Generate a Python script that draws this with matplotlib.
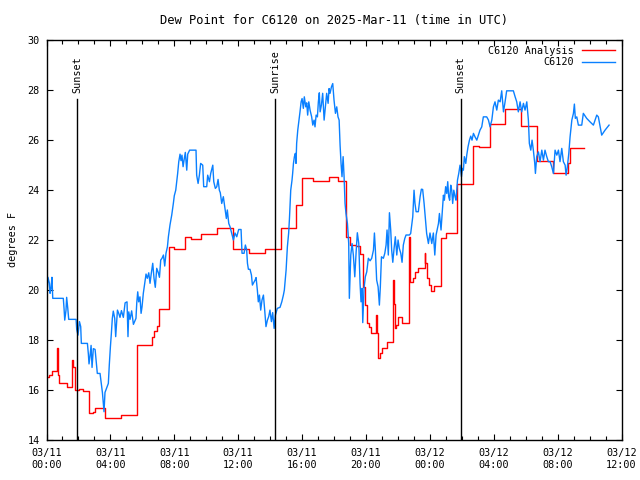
import matplotlib
matplotlib.use('Agg')
import matplotlib.pyplot as plt
from matplotlib.ticker import MultipleLocator

# hours since 2025-03-11 00:00 UTC
analysis_hours = [0.0, 0.16, 0.33, 0.64, 0.74, 0.80, 1.27, 1.30, 1.60, 1.68, 1.80, 2.05, 2.27,
                  2.68, 2.93, 3.04, 3.68, 4.67, 5.65, 5.69, 6.63, 6.73, 6.94, 7.05, 7.65, 7.69,
                  8.00, 8.65, 9.03, 9.69, 10.66, 11.68, 12.70, 13.70, 14.67, 15.62, 16.00, 16.71,
                  17.67, 18.27, 18.75, 19.00, 19.38, 19.63, 19.80, 19.96, 20.05, 20.19, 20.30,
                  20.63, 20.68, 20.78, 20.88, 21.03, 21.30, 21.72, 21.76, 21.80, 21.89, 22.01,
                  22.26, 22.68, 22.76, 22.97, 23.06, 23.26, 23.68, 23.72, 23.81, 23.97, 24.06,
                  24.26, 24.68, 25.00, 25.69, 26.69, 27.10, 27.77, 28.71, 29.73, 30.70, 31.74,
                  32.67, 32.78, 33.66]
analysis_dew = [16.52, 16.60, 16.76, 17.67, 16.60, 16.27, 16.20, 16.12, 17.20, 16.90, 16.00, 16.05,
                15.95, 15.09, 15.13, 15.27, 14.87, 14.99, 16.40, 17.79, 18.10, 18.36, 18.57, 19.23,
                20.48, 21.73, 21.64, 22.13, 22.04, 22.25, 22.47, 21.64, 21.47, 21.63, 22.47, 23.37,
                24.47, 24.33, 24.50, 24.36, 22.13, 21.80, 21.76, 21.44, 20.13, 19.39, 18.67, 18.50,
                18.27, 19.00, 18.27, 17.27, 17.47, 17.67, 17.92, 20.40, 19.44, 18.47, 18.60, 18.91,
                18.67, 22.13, 20.33, 20.47, 20.73, 20.89, 21.49, 21.09, 20.47, 20.20, 19.96, 20.16,
                22.07, 22.27, 24.23, 25.73, 25.70, 26.64, 27.23, 26.56, 25.16, 24.67, 25.07, 25.67,
                25.67]

obs_hours = [0.01, 0.09, 0.18, 0.22, 0.28, 0.34, 0.39, 1.05, 1.10, 1.14, 1.22, 1.26, 1.33, 1.39,
             1.85, 1.89, 1.97, 2.06, 2.14, 2.18, 2.56, 2.62, 2.66, 2.72, 2.79, 2.85, 2.93, 3.04,
             3.10, 3.18, 3.35, 3.43, 3.50, 3.60, 3.66, 3.87, 3.93, 4.00, 4.06, 4.12, 4.18, 4.27,
             4.33, 4.37, 4.44, 4.52, 4.60, 4.69, 4.81, 4.92, 5.04, 5.10, 5.15, 5.23, 5.33, 5.44,
             5.60, 5.65, 5.71, 5.77, 5.85, 5.92, 5.98, 6.06, 6.15, 6.23, 6.31, 6.40, 6.48, 6.56,
             6.65, 6.73, 6.81, 6.90, 7.00, 7.07, 7.15, 7.23, 7.32, 7.40, 7.48, 7.57, 7.63, 7.73,
             7.84, 7.94, 8.00, 8.09, 8.15, 8.21, 8.28, 8.36, 8.42, 8.48, 8.55, 8.61, 8.69, 8.78,
             8.84, 8.96, 9.36, 9.40, 9.49, 9.57, 9.65, 9.78, 9.84, 10.03, 10.09, 10.20, 10.28,
             10.41, 10.47, 10.57, 10.66, 10.74, 10.82, 10.88, 10.97, 11.07, 11.14, 11.20, 11.26,
             11.32, 11.41, 11.49, 11.57, 11.62, 11.70, 11.80, 11.91, 12.03, 12.18, 12.24, 12.37,
             12.45, 12.53, 12.58, 12.64, 12.74, 12.83, 12.89, 13.06, 13.12, 13.20, 13.26, 13.33,
             13.41, 13.49, 13.58, 13.66, 13.74, 13.83, 13.91, 13.99, 14.08, 14.16, 14.25, 14.33,
             14.45, 14.62, 14.73, 14.83, 14.89, 15.00, 15.08, 15.16, 15.21, 15.29, 15.37, 15.41,
             15.46, 15.52, 15.58, 15.62, 15.66, 15.73, 15.81, 15.87, 15.94, 16.00, 16.08, 16.14,
             16.23, 16.29, 16.35, 16.42, 16.50, 16.60, 16.67, 16.75, 16.81, 16.88, 16.96, 17.02,
             17.08, 17.13, 17.21, 17.29, 17.38, 17.46, 17.54, 17.63, 17.69, 17.75, 17.84, 17.92,
             18.00, 18.09, 18.17, 18.25, 18.32, 18.38, 18.44, 18.50, 18.57, 18.63, 18.69, 18.75,
             18.84, 18.90, 18.92, 18.96, 19.05, 19.13, 19.21, 19.30, 19.38, 19.46, 19.55, 19.63,
             19.69, 19.76, 19.80, 19.88, 19.96, 20.05, 20.15, 20.26, 20.36, 20.47, 20.53, 20.59,
             20.67, 20.76, 20.84, 20.90, 20.97, 21.09, 21.18, 21.26, 21.32, 21.40, 21.47, 21.55,
             21.61, 21.68, 21.76, 21.84, 21.93, 22.01, 22.09, 22.18, 22.26, 22.34, 22.43, 22.51,
             22.72, 22.80, 22.93, 23.01, 23.07, 23.14, 23.28, 23.39, 23.47, 23.55, 23.64, 23.70,
             23.80, 23.91, 24.01, 24.12, 24.22, 24.31, 24.39, 24.54, 24.60, 24.70, 24.79, 24.85,
             24.91, 24.99, 25.06, 25.12, 25.18, 25.24, 25.31, 25.37, 25.43, 25.50, 25.58, 25.64,
             25.73, 25.81, 25.89, 25.98, 26.04, 26.10, 26.16, 26.25, 26.31, 26.39, 26.48, 26.56,
             26.64, 26.73, 26.83, 26.94, 27.04, 27.14, 27.25, 27.35, 27.56, 27.67, 27.77, 27.88,
             27.98, 28.08, 28.19, 28.29, 28.40, 28.50, 28.61, 28.71, 28.81, 29.23, 29.34, 29.44,
             29.54, 29.65, 29.75, 29.86, 29.96, 30.07, 30.17, 30.23, 30.32, 30.40, 30.48, 30.57,
             30.61, 30.69, 30.80, 30.90, 31.01, 31.11, 31.21, 31.32, 31.42, 31.53, 31.63, 31.74,
             31.84, 31.95, 32.05, 32.15, 32.26, 32.36, 32.47, 32.53, 32.61, 32.70, 32.78, 32.89,
             32.99, 33.05, 33.11, 33.20, 33.30, 33.51, 33.61, 33.82, 34.03, 34.24, 34.45, 34.55,
             34.76, 34.97, 35.22]
obs_dew = [19.59, 20.50, 20.26, 19.86, 20.06, 20.50, 19.66, 19.66, 19.23, 18.79, 19.19, 19.70, 19.26,
           18.82, 18.82, 18.42, 18.19, 18.73, 18.53, 17.86, 17.86, 17.43, 17.04, 17.33, 17.78, 16.90,
           17.65, 17.62, 17.19, 16.66, 16.66, 16.26, 15.89, 15.13, 15.90, 16.26, 17.00, 17.73, 18.26,
           18.86, 19.15, 18.86, 18.13, 18.53, 19.19, 19.06, 18.90, 19.17, 18.90, 19.48, 19.52, 18.13,
           19.12, 18.82, 19.16, 18.62, 18.86, 19.48, 19.92, 19.52, 19.72, 19.06, 19.32, 19.86, 20.26,
           20.63, 20.46, 20.68, 20.26, 20.66, 21.06, 20.46, 20.10, 20.86, 20.68, 20.50, 21.19, 21.26,
           21.39, 20.95, 21.46, 21.72, 22.12, 22.59, 22.99, 23.45, 23.76, 23.98, 24.32, 24.65, 25.12,
           25.42, 25.16, 25.38, 24.92, 25.18, 25.49, 24.78, 25.42, 25.58, 25.58, 24.58, 24.25, 24.58,
           25.05, 24.98, 24.12, 24.12, 24.58, 24.32, 24.65, 24.98, 24.32, 24.05, 24.12, 24.41, 23.98,
           23.88, 23.45, 23.72, 23.39, 23.12, 22.85, 23.19, 22.65, 22.52, 22.32, 22.19, 21.99, 22.27,
           22.12, 22.41, 22.41, 21.46, 21.46, 21.79, 21.60, 21.06, 20.82, 20.82, 20.59, 20.19, 20.39,
           20.49, 19.99, 19.52, 19.79, 19.19, 19.59, 19.79, 19.19, 18.53, 18.79, 18.93, 19.19, 18.73,
           19.09, 18.46, 18.99, 19.26, 19.30, 19.52, 19.79, 19.99, 20.79, 21.72, 22.27, 22.85, 23.98,
           24.38, 24.65, 25.05, 25.32, 25.45, 25.05, 25.85, 26.38, 26.78, 27.11, 27.51, 27.64, 27.25,
           27.71, 27.31, 27.47, 26.98, 27.51, 27.18, 26.91, 26.58, 26.78, 26.51, 26.98, 26.91, 27.51,
           27.87, 27.11, 27.38, 27.85, 26.78, 27.31, 27.85, 27.45, 28.04, 27.85, 28.11, 28.24, 27.58,
           27.05, 27.31, 26.91, 26.78, 25.78, 25.05, 24.52, 25.32, 24.52, 23.45, 23.05, 22.65, 22.05,
           21.85, 19.66, 21.39, 21.85, 21.39, 20.52, 21.46, 22.28, 21.85, 20.26, 19.52, 20.06, 18.69,
           20.06, 20.52, 20.72, 21.26, 21.16, 21.26, 21.59, 22.27, 21.59, 20.39, 20.12, 19.39, 20.12,
           21.32, 21.26, 21.46, 21.79, 22.39, 21.39, 23.08, 22.39, 21.59, 21.10, 21.65, 22.12, 21.39,
           21.99, 21.65, 21.46, 21.10, 21.79, 22.05, 22.19, 22.19, 22.25, 22.92, 23.98, 23.45, 23.12,
           23.12, 23.72, 24.02, 24.01, 23.45, 22.99, 22.25, 21.85, 22.27, 21.85, 22.27, 21.39, 22.19,
           22.65, 23.05, 22.39, 23.19, 23.78, 23.58, 24.12, 23.85, 24.32, 23.72, 23.58, 24.18, 23.98,
           23.45, 23.98, 23.72, 23.58, 24.38, 24.65, 24.98, 24.52, 24.85, 24.78, 25.32, 25.05, 25.38,
           25.71, 25.98, 26.14, 25.98, 26.25, 26.11, 25.98, 26.18, 26.38, 26.51, 26.91, 26.91, 26.78,
           26.51, 26.78, 27.31, 27.51, 27.18, 27.58, 27.51, 27.95, 27.11, 27.51, 27.95, 27.95, 27.71,
           27.51, 27.11, 27.51, 27.11, 27.45, 27.18, 27.51, 26.78, 25.85, 25.58, 25.98, 25.58, 25.05,
           24.65, 25.32, 25.51, 25.12, 25.58, 25.18, 25.58, 25.32, 25.12, 25.12, 24.92, 24.65, 25.58,
           25.38, 25.58, 25.12, 25.65, 25.12, 24.98, 24.58, 24.92, 25.45, 26.11, 26.78, 27.05, 27.42,
           26.85, 26.91, 26.58, 26.58, 27.05, 26.85, 26.71, 26.58, 26.98, 26.91, 26.18, 26.38, 26.58]

sun_events = ['Sunset', 'Sunrise', 'Sunset']
sun_hours = [1.93, 14.33, 25.92]

tick_hours = [0, 4, 8, 12, 16, 20, 24, 28, 32, 36]
tick_labels = ['03/11\n00:00', '03/11\n04:00', '03/11\n08:00', '03/11\n12:00', '03/11\n16:00',
               '03/11\n20:00', '03/12\n00:00', '03/12\n04:00', '03/12\n08:00', '03/12\n12:00']

plt.rcParams['font.family'] = 'DejaVu Sans Mono'
plt.rcParams['font.size'] = 7.3

fig = plt.figure(figsize=(6.4, 4.8), dpi=100)
ax = fig.add_axes([0.0727, 0.0833, 0.8984, 0.8344])

ax.plot(analysis_hours, analysis_dew, color='#ff0000', lw=1.0, drawstyle='steps-post',
        label='C6120 Analysis')
ax.plot(obs_hours, obs_dew, color='#0a80ff', lw=1.0, label='C6120')

for name, h in zip(sun_events, sun_hours):
    ax.plot([h, h], [14, 27.62], color='black', lw=1.0)
    ax.text(h, 27.88, name, rotation=90, ha='center', va='bottom')

ax.set_xlim(0, 36)
ax.set_ylim(14, 30)
ax.set_xticks(tick_hours)
ax.set_xticklabels(tick_labels)
ax.xaxis.set_minor_locator(MultipleLocator(1))
ax.set_yticks(range(14, 31, 2))
ax.tick_params(which='major', direction='in', length=4.3, width=0.8, top=True, right=True, pad=5)
ax.tick_params(axis='x', which='major', pad=6)
ax.tick_params(which='minor', direction='in', length=2.8, width=0.8, top=True, right=True)
for s in ax.spines.values():
    s.set_linewidth(1.0)

ax.set_ylabel('degrees F', labelpad=7)
ax.set_title('Dew Point for C6120 on 2025-Mar-11 (time in UTC)', pad=11)

ax.legend(loc='upper right', frameon=False, markerfirst=False, handlelength=3.3,
          handletextpad=0.8, borderaxespad=0.2, labelspacing=0.15)

fig.savefig('out.png', dpi=100)
